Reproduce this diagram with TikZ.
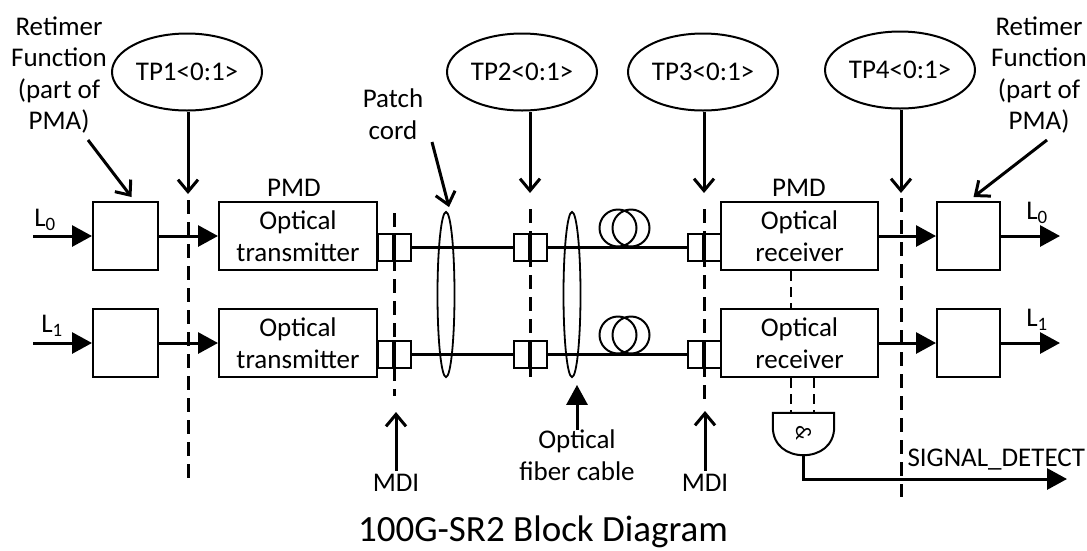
\documentclass[tikz,border=0pt]{standalone}
\usepackage{fontspec}
\setmainfont{Carlito}
\usetikzlibrary{arrows.meta,shapes.geometric}

\tikzset{
  blk/.style={draw, line width=2pt, minimum width=158pt, minimum height=68pt, align=center, inner sep=0pt},
  rtm/.style={draw, line width=2pt, minimum width=65pt, minimum height=68pt, inner sep=0pt},
  conn/.style={draw, line width=2pt, minimum width=33pt, minimum height=27pt, inner sep=0pt,
    path picture={\draw[line width=3.5pt] (path picture bounding box.north) -- (path picture bounding box.south);}},
  tp/.style={draw, ellipse, line width=2pt, minimum width=150pt, minimum height=77pt, inner sep=0pt},
  cord/.style={draw, ellipse, line width=1.8pt, minimum width=17pt, minimum height=165pt, inner sep=0pt},
  coil/.style={draw, circle, line width=2pt, minimum size=37pt, inner sep=0pt},
  sig/.style={line width=3pt, -{Triangle[length=20pt,width=21pt]}},
  ptr/.style={line width=3pt, -{Straight Barb[length=12pt,width=20pt]}},
  fib/.style={line width=3pt},
  tpline/.style={line width=3pt, dash pattern=on 14pt off 8pt},
  sdline/.style={line width=2pt, dash pattern=on 10pt off 6pt},
  lbl/.style={align=center, inner sep=0pt},
}

\begin{document}
\begin{tikzpicture}[x=1pt, y=-1pt, font=\fontsize{27}{31.5}\selectfont]
  \useasboundingbox (0,0) rectangle (1087,550);

  % test points
  \node[tp] (tp1) at (187,72) {TP1<0:1>};
  \node[tp] (tp2) at (522,72) {TP2<0:1>};
  \node[tp] (tp3) at (703,72) {TP3<0:1>};
  \node[tp] (tp4) at (900,70) {TP4<0:1>};

  % labels
  \node[lbl] (rfL) at (59,75) {Retimer\\Function\\(part of\\PMA)};
  \node[lbl] (rfR) at (1039,75) {Retimer\\Function\\(part of\\PMA)};
  \node[lbl] (pcl) at (393,114) {Patch\\cord};
  \node (pmdT) at (294,188) {PMD};
  \node (pmdR) at (799,188) {PMD};

  % lane 0
  \node[rtm] (rtA) at (125.5,236) {};
  \node[blk] (txA) at (298,236) {Optical\\transmitter};
  \node[conn] (cA1) at (394,247) {};
  \node[conn] (cA2) at (530,247) {};
  \node[conn] (cA3) at (704,247) {};
  \node[blk, minimum width=157pt] (rxA) at (799.5,236) {Optical\\receiver};
  \node[rtm, minimum width=63pt] (rtC) at (968.5,236) {};
  \node[coil] (kA1) at (618,228) {};
  \node[coil] (kA2) at (631,228) {};

  % lane 1
  \node[rtm] (rtB) at (125.5,343) {};
  \node[blk] (txB) at (298,343) {Optical\\transmitter};
  \node[conn] (cB1) at (394,354) {};
  \node[conn] (cB2) at (530,354) {};
  \node[conn] (cB3) at (704,354) {};
  \node[blk, minimum width=157pt] (rxB) at (799.5,343) {Optical\\receiver};
  \node[rtm, minimum width=63pt] (rtD) at (968.5,343) {};
  \node[coil] (kB1) at (618,335) {};
  \node[coil] (kB2) at (631,335) {};

  % cords
  \node[cord] (pcord) at (446,294.5) {};
  \node[cord] (fcab) at (572,294.5) {};

  % lane inputs and outputs
  \node (lA) at (45,220) {L\textsubscript{0}};
  \node (lB) at (52,326) {L\textsubscript{1}};
  \node (lC) at (1037,213) {L\textsubscript{0}};
  \node (lD) at (1037,320) {L\textsubscript{1}};
  \coordinate (inA) at (33,236);
  \coordinate (inB) at (33,343);
  \coordinate (outA) at (1060,236);
  \coordinate (outB) at (1060,343);

  \draw[sig] (inA) -- (rtA.west);
  \draw[sig] (rtA.east) -- (txA.west);
  \draw[sig] (rxA.east) -- (rtC.west);
  \draw[sig] (rtC.east) -- (outA);
  \draw[sig] (inB) -- (rtB.west);
  \draw[sig] (rtB.east) -- (txB.west);
  \draw[sig] (rxB.east) -- (rtD.west);
  \draw[sig] (rtD.east) -- (outB);

  % fibers
  \draw[fib] (cA1) -- (cA2);
  \draw[fib] (cA2) -- (cA3);
  \draw[fib] (cB1) -- (cB2);
  \draw[fib] (cB2) -- (cB3);

  % test point lines
  \coordinate (d1t) at (188,200);  \coordinate (d1b) at (188,482);
  \coordinate (m1t) at (394,213);  \coordinate (m1b) at (394,396);
  \coordinate (d2t) at (530,209);  \coordinate (d2b) at (530,377);
  \coordinate (d3t) at (704,209);  \coordinate (d3b) at (704,405);
  \coordinate (d4t) at (901,198);  \coordinate (d4b) at (901,497);
  \draw[tpline] (d1t) -- (d1b);
  \draw[tpline] (m1t) -- (m1b);
  \draw[tpline] (d2t) -- (d2b);
  \draw[tpline] (d3t) -- (d3b);
  \draw[tpline] (d4t) -- (d4b);

  \draw[ptr] (tp1.south -| d1t) -- ([yshift=6pt]d1t);
  \draw[ptr] (tp2.south -| d2t) -- ([yshift=16pt]d2t);
  \draw[ptr] (tp3.south -| d3t) -- ([yshift=16pt]d3t);
  \draw[ptr] (tp4.south -| d4t) -- ([yshift=5pt]d4t);

  % pointers
  \coordinate (rfLt) at (88,140);
  \coordinate (rfRt) at (1047,140);
  \coordinate (pct) at (432,142);
  \draw[ptr] (rfLt) -- ([xshift=6pt,yshift=4pt]rtA.north);
  \draw[ptr] (rfRt) -- ([xshift=5pt,yshift=4pt]rtC.north);
  \draw[ptr] (pct) -- ([xshift=3pt,yshift=4pt]pcord.north);

  \node (mdiL) at (396,483) {MDI};
  \node (mdiR) at (705,483) {MDI};
  \coordinate (m1a) at (396,412);
  \coordinate (m3a) at (705,411);
  \draw[ptr] (mdiL) -- (m1a);
  \draw[ptr] (mdiR) -- (m3a);

  \node[lbl] (fcl) at (577,455) {Optical\\fiber cable};
  \draw[sig] (fcl.north) -- ([xshift=5pt,yshift=-7pt]fcab.south);

  % signal detect
  \node[inner sep=0pt, minimum width=61pt, minimum height=42pt] (gate) at (803.5,434) {};
  \node[rotate=-90, font=\fontsize{22}{22}\selectfont] (amp) at (803.5,433) {\&};
  \draw[line width=2pt] (gate.north west) -- (gate.north east) -- ++(0,14)
    .. controls +(0,19) and +(16,0) .. (gate.south)
    .. controls +(-16,0) and +(0,19) .. ([yshift=-14pt]gate.north west) -- cycle;
  \draw[sdline] ([xshift=-8.5pt]rxA.south) -- ([xshift=-8.5pt]rxB.north);
  \draw[sdline] ([xshift=-8.5pt]rxB.south) -- ([xshift=-12.5pt]gate.north);
  \draw[sdline] ([xshift=14.5pt]rxB.south) -- ([xshift=10.5pt]gate.north);
  \coordinate (sdo) at (1067,479);
  \draw[sig] (gate.south) |- (sdo);
  \node[anchor=base west] (sdl) at (904,466) {SIGNAL\_DETECT};

  % title
  \node[anchor=base] (ttl) at (543,541) {\fontsize{37}{44}\selectfont 100G-SR2 Block Diagram};
\end{tikzpicture}
\end{document}
